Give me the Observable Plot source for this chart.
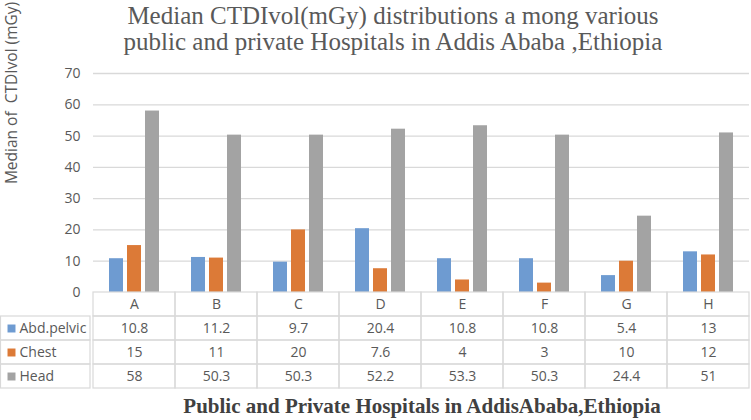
<!DOCTYPE html>
<html><head><meta charset="utf-8">
<script src="https://cdn.jsdelivr.net/npm/d3@7"></script>
<script src="https://cdn.jsdelivr.net/npm/@observablehq/plot@0.6"></script>
<style>
body{margin:0;background:#fff;}
#wrap{position:relative;width:751px;height:420px;overflow:hidden;font-family:"Open Sans",sans-serif;background:#fff;}
.abs{position:absolute;}
#title{left:93px;top:3px;width:600px;text-align:center;font:25px "Liberation Serif",serif;color:#595959;line-height:26px;}
#ylab{left:11px;top:93px;transform:translate(-50%,-50%) rotate(-90deg);white-space:pre;font-size:15.5px;color:#595959;}
#xtitle{left:122px;top:394px;width:600px;text-align:center;font:bold 21px "Liberation Serif",serif;color:#404040;}
#chart{left:0;top:0;}
#table{left:0;top:291px;}
</style></head>
<body><div id="wrap">
<div id="chart" class="abs"></div>
<div id="table" class="abs"></div>
<div id="title" class="abs"></div>
<div id="ylab" class="abs"></div>
<div id="xtitle" class="abs"></div>
</div>
<script>
const categories = ["A", "B", "C", "D", "E", "F", "G", "H"];
const seriesNames = ["Abd.pelvic", "Chest", "Head"];
const abdPelvic = [10.8, 11.2, 9.7, 20.4, 10.8, 10.8, 5.4, 13];
const chest = [15, 11, 20, 7.6, 4, 3, 10, 12];
const head = [58, 50.3, 50.3, 52.2, 53.3, 50.3, 24.4, 51];
const yTicks = [0, 10, 20, 30, 40, 50, 60, 70];
const colors = ["#6e9bd1", "#dc7a37", "#a3a3a3"];
const titleLines = ["Median CTDIvol(mGy) distributions a mong various", "public and private Hospitals in Addis Ababa ,Ethiopia"];
const yLabel = "Median of  CTDIvol (mGy)";
const xTitle = "Public and Private Hospitals in AddisAbaba,Ethiopia";

const seriesValues = [abdPelvic, chest, head];
const data = categories.flatMap((c, i) => seriesNames.map((s, j) => ({cat: c, series: s, value: seriesValues[j][i]})));

const chart = Plot.plot({
  width: 751, height: 294,
  marginLeft: 90, marginRight: 0, marginTop: 73, marginBottom: 2,
  style: {fontFamily: "'Open Sans', sans-serif", fontSize: "14px", color: "#595959", background: "transparent", overflow: "visible"},
  fx: {domain: categories, padding: 0, axis: null, label: null},
  x: {domain: seriesNames, paddingInner: 0.216, paddingOuter: 0.84, axis: null},
  y: {domain: [0, 70], axis: null, label: null},
  color: {domain: seriesNames, range: colors},
  marks: [
    Plot.ruleY(yTicks.filter(t => t > 0), {stroke: "#d9d9d9", strokeWidth: 1.3}),
    Plot.barY(data, {fx: "cat", x: "series", y: "value", fill: "series"}),
    Plot.axisY({ticks: yTicks, tickSize: 0, tickPadding: 13, tickFormat: d => String(d), fontSize: 14, label: null})
  ]
});
document.getElementById("chart").append(chart);

const rowKeys = ["hdr", ...seriesNames];
const gridCells = categories.flatMap(c => rowKeys.map(r => ({cat: c, row: r})));
const tableData = categories.flatMap((c, i) => seriesNames.map((s, j) => ({cat: c, row: s, text: String(seriesValues[j][i])})));

const table = Plot.plot({
  width: 751, height: 98,
  marginLeft: 90, marginRight: 0, marginTop: 1, marginBottom: 1,
  style: {fontFamily: "'Open Sans', sans-serif", fontSize: "14px", color: "#595959", background: "transparent", overflow: "visible"},
  x: {domain: categories, padding: 0, axis: null},
  y: {domain: rowKeys, padding: 0, axis: null},
  color: {domain: seriesNames, range: colors},
  marks: [
    Plot.cell(gridCells, {x: "cat", y: "row", fill: "none", stroke: "#d9d9d9", strokeWidth: 1.2, inset: 0}),
    Plot.cell(seriesNames, {y: d => d, fill: "none", stroke: "#d9d9d9", strokeWidth: 1.2, insetLeft: -89.5, insetRight: 661, insetTop: 0, insetBottom: 0}),
    Plot.text(categories, {x: d => d, y: () => "hdr", text: d => d, fontSize: 14}),
    Plot.text(tableData, {x: "cat", y: "row", text: "text", fontSize: 14}),
    Plot.dot(seriesNames, {y: d => d, frameAnchor: "left", dx: -79, symbol: "square", r: 4.5, fill: d => d, stroke: null}),
    Plot.text(seriesNames, {y: d => d, frameAnchor: "left", dx: -71, textAnchor: "start", text: d => d, fontSize: 14})
  ]
});
document.getElementById("table").append(table);

document.getElementById("title").innerHTML = titleLines.join("<br>");
document.getElementById("ylab").textContent = yLabel;
document.getElementById("xtitle").textContent = xTitle;
</script>
</body></html>
